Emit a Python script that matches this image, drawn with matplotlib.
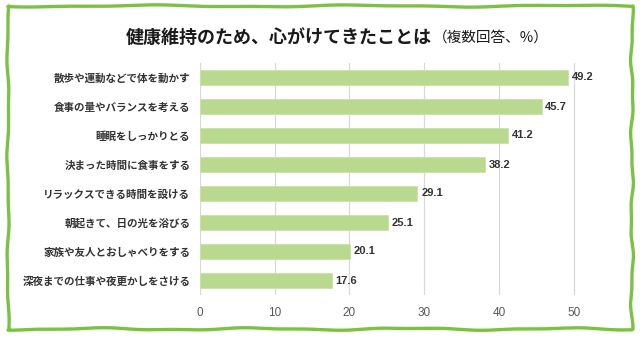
import numpy as np
import matplotlib.pyplot as plt
from matplotlib.lines import Line2D

plt.rcParams['font.family'] = ['Noto Sans CJK JP', 'DejaVu Sans']

# data
items = ['散歩や運動などで体を動かす', '食事の量やバランスを考える', '睡眠をしっかりとる',
         '決まった時間に食事をする', 'リラックスできる時間を設ける', '朝起きて、日の光を浴びる',
         '家族や友人とおしゃべりをする', '深夜までの仕事や夜更かしをさける']
percent = [49.2, 45.7, 41.2, 38.2, 29.1, 25.1, 20.1, 17.6]
xticks = [0, 10, 20, 30, 40, 50]

W, H = 640, 338
fig = plt.figure(figsize=(W / 100, H / 100), dpi=100)

# plot area in pixels: left 200, right 611, top 63, bottom 295
ax = fig.add_axes([200 / W, 1 - 295 / H, 411 / W, 232 / H])
y = np.arange(len(items))
bars = ax.barh(y, percent, height=0.5, color='#b9d98f', edgecolor='#c9e3a6',
               linewidth=0.6, zorder=2)
for b, v in zip(bars, percent):
    ax.text(b.get_width() + 0.5, b.get_y() + b.get_height() / 2, f'{v:.1f}',
            va='center', ha='left', fontsize=8, fontweight='bold',
            color='#333333', family=['Liberation Sans', 'DejaVu Sans'])

ax.set_xlim(0, 55)
ax.set_ylim(len(items) - 0.5, -0.5)
ax.set_xticks(xticks)
ax.set_xticklabels([str(t) for t in xticks], fontsize=8.5, color='#595959',
                   family=['Liberation Sans', 'DejaVu Sans'])
ax.set_yticks(y)
ax.set_yticklabels(items, fontsize=7.6, fontweight='bold', color='#333333')
ax.tick_params(length=0)
ax.tick_params(axis='x', pad=9)
ax.tick_params(axis='y', pad=7)
ax.grid(axis='x', color='#d9d9d9', linewidth=0.9, zorder=0)
for s in ax.spines.values():
    s.set_visible(False)

# title
fig.text(126 / W, 1 - 37 / H, '健康維持のため、心がけてきたことは', fontsize=13,
         fontweight='bold', color='#1a1a1a', va='center', ha='left')
fig.text(433 / W, 1 - 38 / H, '（複数回答、%）', fontsize=10.5,
         color='#1a1a1a', va='center', ha='left')

# hand-drawn looking green frame
def wobble(n, amp, freq, phase):
    t = np.linspace(0, 1, n)
    return amp * (np.sin(2 * np.pi * freq * t + phase) +
                  0.5 * np.sin(2 * np.pi * freq * 2.3 * t + phase * 1.7))

n = 200
tx = np.linspace(8, 632, n)
top_y = 6 + wobble(n, 0.8, 3, 0.4)
bot_y = 329 + wobble(n, 0.9, 4, 1.1)
ly = np.linspace(6, 329, n)
left_x = 8 + wobble(n, 0.8, 3, 2.0)
right_x = 632 + wobble(n, 1.0, 4, 0.7)
frame_x = np.concatenate([tx, right_x, tx[::-1], left_x[::-1]])
frame_y = np.concatenate([top_y, ly, bot_y[::-1], ly[::-1]])
fig.add_artist(Line2D(frame_x / W, 1 - frame_y / H, color='#7cc242',
                      linewidth=2.4, solid_joinstyle='round',
                      solid_capstyle='round', transform=fig.transFigure))

fig.savefig('out.png', dpi=100, facecolor='white')
